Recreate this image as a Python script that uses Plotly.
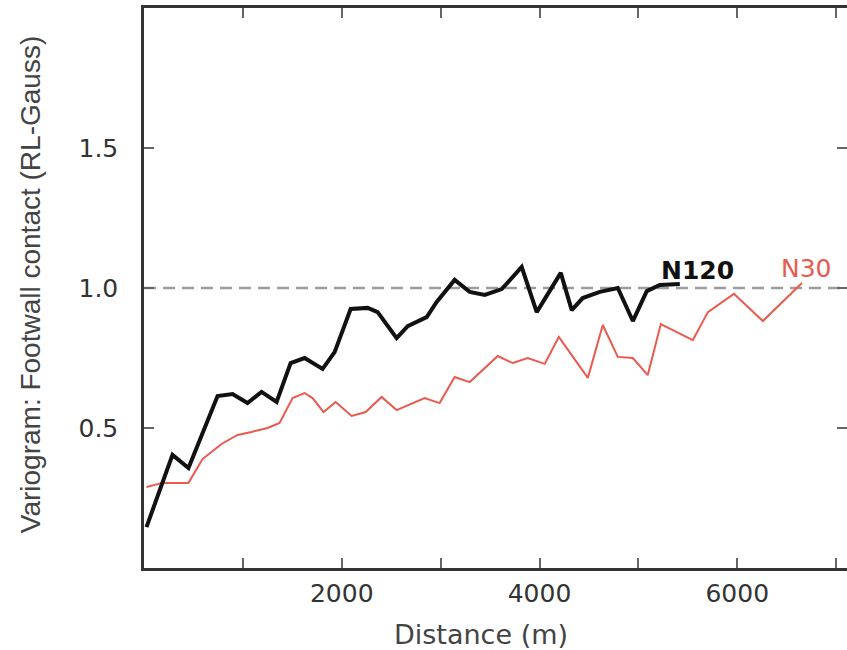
import plotly.graph_objects as go

# N120 variogram (black)
n120_dist = [25, 288, 450, 744, 896, 1047, 1189, 1341, 1483, 1624, 1806, 1928, 2090, 2262,
             2363, 2555, 2667, 2859, 2960, 3142, 3294, 3446, 3618, 3820, 3972, 4215, 4326,
             4437, 4610, 4792, 4944, 5085, 5217, 5419]
n120_gamma = [0.146, 0.404, 0.357, 0.614, 0.621, 0.589, 0.629, 0.593, 0.732, 0.750, 0.711,
              0.771, 0.925, 0.929, 0.914, 0.821, 0.864, 0.896, 0.950, 1.029, 0.986, 0.975,
              0.996, 1.075, 0.914, 1.054, 0.921, 0.964, 0.986, 1.000, 0.882, 0.989, 1.011,
              1.014]

# N30 variogram (red)
n30_dist = [25, 187, 450, 592, 784, 946, 1088, 1250, 1371, 1503, 1624, 1705, 1816, 1938,
            2100, 2242, 2403, 2555, 2838, 2990, 3142, 3294, 3578, 3729, 3881, 4053, 4195,
            4489, 4640, 4792, 4944, 5095, 5227, 5551, 5703, 5966, 6259, 6654]
n30_gamma = [0.289, 0.304, 0.304, 0.389, 0.443, 0.475, 0.486, 0.500, 0.518, 0.607, 0.625,
             0.607, 0.557, 0.593, 0.543, 0.557, 0.611, 0.564, 0.607, 0.589, 0.682, 0.664,
             0.757, 0.732, 0.750, 0.729, 0.825, 0.679, 0.868, 0.754, 0.750, 0.689, 0.871,
             0.814, 0.914, 0.979, 0.882, 1.018]

sill = 1.0
x_ticks = [1000, 2000, 3000, 4000, 5000, 6000, 7000]
x_ticktext = ["", "2000", "", "4000", "", "6000", ""]
y_ticks = [0.5, 1.0, 1.5]
y_ticktext = ["0.5", "1.0", "1.5"]
x_range = [0, 7110]
y_range = [0, 2]

RED = "#ea5a4e"
TICKFONT = dict(family="DejaVu Sans", size=25, color="#333333")

fig = go.Figure()
fig.add_trace(go.Scatter(x=n30_dist, y=n30_gamma, mode="lines",
                         line=dict(color=RED, width=2), showlegend=False, hoverinfo="skip"))
fig.add_trace(go.Scatter(x=n120_dist, y=n120_gamma, mode="lines",
                         line=dict(color="#111111", width=4), showlegend=False, hoverinfo="skip"))
# helper trace so the right-hand tick axis is drawn
fig.add_trace(go.Scatter(x=[None], y=[None], yaxis="y2", mode="lines",
                         showlegend=False, hoverinfo="skip"))

fig.add_shape(type="line", xref="paper", x0=0, x1=1, yref="y", y0=sill, y1=sill,
              line=dict(color="#9d9d9d", width=2.5, dash="12px,7px"), layer="below")

fig.add_annotation(x=5600, y=1.064, xref="x", yref="y", text="<b>N120</b>", showarrow=False,
                   font=dict(family="DejaVu Sans", size=25, color="#111111"))
fig.add_annotation(x=6704, y=1.071, xref="x", yref="y", text="N30", showarrow=False,
                   font=dict(family="DejaVu Sans", size=25, color=RED))

fig.add_annotation(x=3406, xref="x", y=-0.118, yref="paper", yanchor="middle",
                   text="Distance (m)", showarrow=False,
                   font=dict(family="DejaVu Sans", size=27, color="#444444"))
fig.add_annotation(x=(30 - 144) / 703.0, xref="paper", y=0.505, yref="paper",
                   text="Variogram: Footwall contact (RL-Gauss)", textangle=-90,
                   showarrow=False, xanchor="center", yanchor="middle",
                   font=dict(family="Liberation Sans, Arial", size=28, color="#444444"))

fig.update_layout(
    width=847, height=650,
    margin=dict(l=144, r=0, t=8, b=82),
    paper_bgcolor="white", plot_bgcolor="white",
    xaxis=dict(range=x_range, showgrid=False, zeroline=False, showline=True,
               linecolor="#333333", linewidth=2.5, mirror="ticks",
               ticks="inside", ticklen=10, tickwidth=2, tickcolor="#666666",
               tickvals=x_ticks, ticktext=x_ticktext, tickfont=TICKFONT,
               ticklabelstandoff=1),
    yaxis=dict(range=y_range, showgrid=False, zeroline=False, showline=True,
               linecolor="#333333", linewidth=2.5,
               ticks="inside", ticklen=10, tickwidth=2, tickcolor="#666666",
               tickvals=y_ticks, ticktext=y_ticktext, tickfont=TICKFONT,
               ticklabelstandoff=18),
    yaxis2=dict(range=y_range, overlaying="y", side="right", showgrid=False,
                zeroline=False, showline=False, ticks="inside", ticklen=10,
                tickwidth=2, tickcolor="#666666", tickvals=y_ticks,
                showticklabels=False),
)

fig.write_html("out.html")
